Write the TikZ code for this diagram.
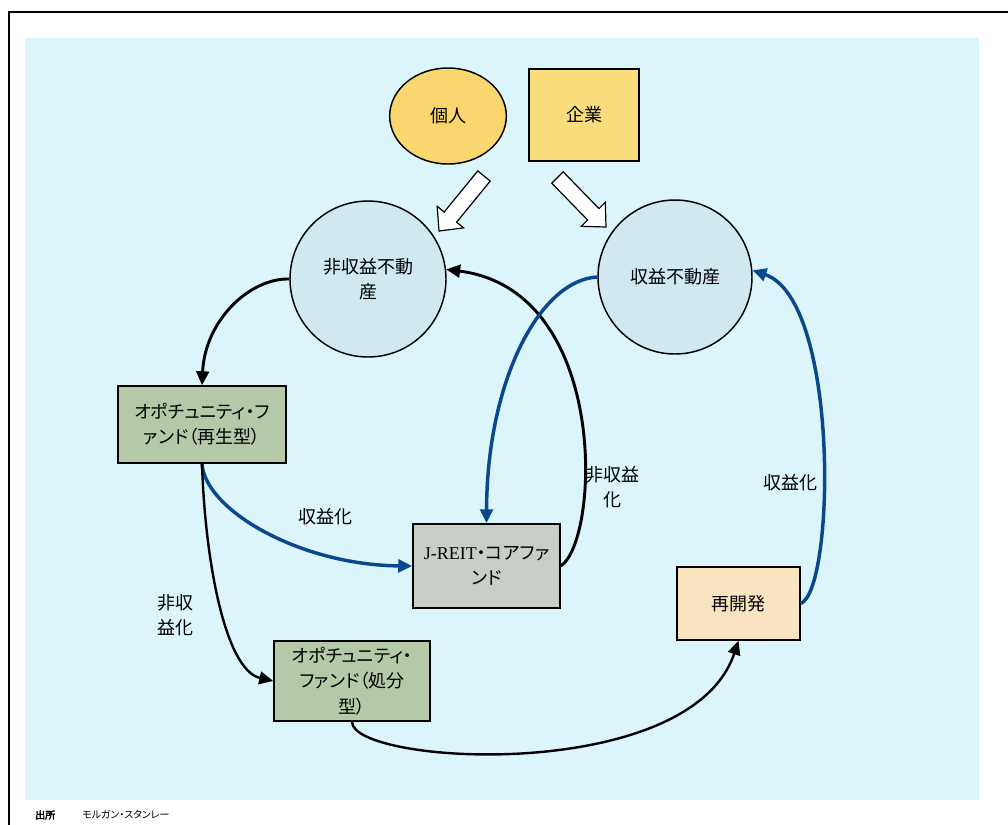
\documentclass[tikz,border=0pt]{standalone}
\usepackage{fontspec}
\setmainfont{Noto Sans CJK JP}[RawFeature=+palt]
\newfontfamily\jpbold{Noto Sans CJK JP}[FakeBold=3]
\newfontfamily\lserif{Liberation Serif}
\usetikzlibrary{arrows.meta,shapes.geometric}
\definecolor{bgcyan}{RGB}{220,245,250}
\definecolor{yelA}{RGB}{249,215,110}
\definecolor{yelB}{RGB}{250,220,125}
\definecolor{circfill}{RGB}{208,232,240}
\definecolor{greenbox}{RGB}{181,201,168}
\definecolor{greybox}{RGB}{200,205,198}
\definecolor{peach}{RGB}{248,228,192}
\definecolor{flowblue}{RGB}{10,72,142}
\tikzset{
  lbl/.style={font=\fontsize{13.5pt}{19pt}\selectfont, align=center, inner sep=0pt},
  shp/.style={draw=black, line width=1.1pt, lbl},
  rbox/.style={shp, rectangle},
  circ/.style={shp, circle, fill=circfill},
  blk/.style={draw=black, line width=2.2pt, -{Triangle[length=10.5pt,width=9.5pt]}},
  blkthin/.style={draw=black, line width=1.8pt, -{Triangle[length=10.5pt,width=9.5pt]}},
  blu/.style={draw=flowblue, line width=2.6pt, -{Triangle[length=10.5pt,width=9.5pt]}},
  hollow/.style={draw=black, fill=white, line width=0.9pt, line join=miter},
}
\begin{document}
\begin{tikzpicture}[x=0.75pt,y=-0.75pt]
\useasboundingbox (0,0) rectangle (1008,825);
\fill[white] (0,0) rectangle (1008,825);
\draw[line width=1.5pt] (9,830) -- (9,12) -- (1015,12);
\fill[bgcyan] (25,38) rectangle (979,800);

% top sources
\node[shp, ellipse, fill=yelA, minimum width=87.5pt, minimum height=72pt] (kojin) at (448,116) {個人};
\node[rbox, fill=yelB, minimum width=82.5pt, minimum height=69pt] (kigyo) at (584,115) {企業};

% hollow arrows
\draw[hollow] (477.8,170.9) -- (444.2,212.0) -- (437.2,206.3) -- (439,231) -- (463.6,227.9) -- (456.6,222.2) -- (490.2,181.1) -- cycle;
\draw[hollow] (551.8,183.2) -- (587.6,220) -- (581.3,226.3) -- (606,227) -- (605.3,202.3) -- (599,208.6) -- (563.2,171.8) -- cycle;

% circles
\node[circ, minimum size=117pt] (nh) at (368,279) {非収益不動\\産};
\node[circ, minimum size=115.5pt] (sh) at (675,277) {収益不動産};

% boxes
\node[rbox, fill=greenbox, minimum width=126pt, minimum height=57.75pt] (f1) at (202,424.5) {オポチュニティ・フ\\ァンド（再生型）};
\node[rbox, fill=greybox, minimum width=110.25pt, minimum height=63pt] (jr) at (486.5,566) {{\lserif J-REIT}・コアファ\\ンド};
\node[rbox, fill=peach, minimum width=92.25pt, minimum height=54.75pt] (rd) at (738.5,603.5) {再開発};
\node[rbox, fill=greenbox, minimum width=117pt, minimum height=60pt] (f2) at (352,681) {オポチュニティ・\\ファンド（処分\\型）};

% connectors
\draw[blk] (nh.west) .. controls (250,278) and (205,320) .. (f1.north);
\draw[blk] (jr.east) .. controls (600,540) and (610,290) .. (nh.7);
\draw[blu] (sh.west) .. controls (540,280) and (487,380) .. (jr.north);
\draw[blu] (f1.south) .. controls (205,510) and (300,565) .. (jr.west);
\draw[blkthin] (f1.south) .. controls (205,560) and (225,670) .. (f2.west);
\draw[blkthin] (f2.south) .. controls (352,765) and (690,785) .. (rd.south);
\draw[blu] (rd.east) .. controls (835,590) and (840,300) .. (sh.5);

% labels
\node[lbl] (l1) at (325,517) {収益化};
\node[lbl] (l2) at (175,615) {非収\\益化};
\node[lbl] (l3) at (612,487) {非収益\\化};
\node[lbl] (l4) at (790,483) {収益化};

% footer
\node[font=\jpbold\fontsize{7.5pt}{9pt}\selectfont, anchor=west, inner sep=0pt] (src) at (35,815) {出所};
\node[font=\fontsize{7.5pt}{9pt}\selectfont, anchor=west, inner sep=0pt] (ms) at (82,815) {モルガン・スタンレー};
\end{tikzpicture}
\end{document}
